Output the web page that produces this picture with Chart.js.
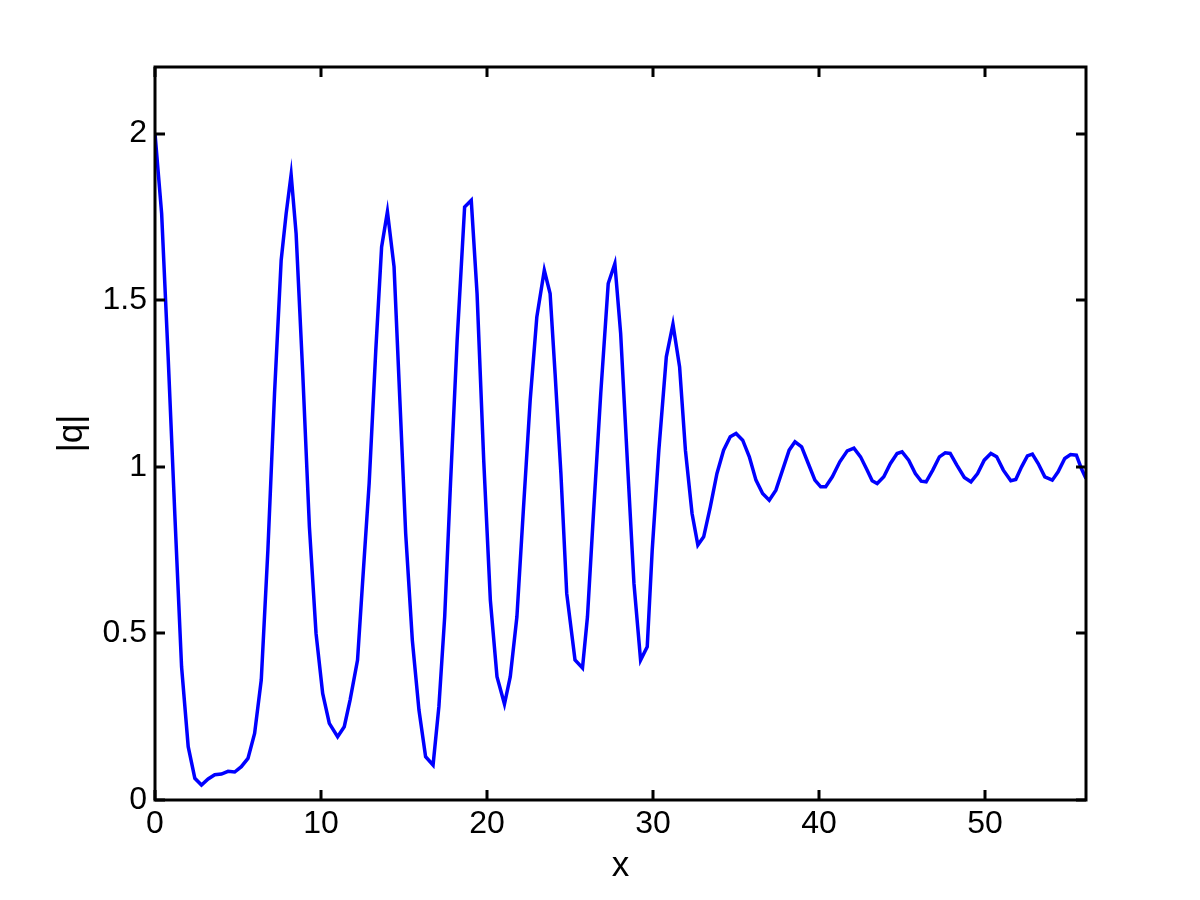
<!DOCTYPE html>
<html>
<head>
<meta charset="utf-8">
<script src="https://cdn.jsdelivr.net/npm/chart.js@4.4.1/dist/chart.umd.min.js"></script>
<style>
  html, body { margin: 0; padding: 0; background: #ffffff; }
  #wrap { width: 1200px; height: 900px; }
</style>
</head>
<body>
<div id="wrap"><canvas id="c" width="1200" height="900"></canvas></div>
<script>
const xs = [0,0.4,0.8,1.2,1.6,2.0,2.4,2.8,3.2,3.6,4.0,4.4,4.8,5.2,5.6,6.0,6.4,6.8,7.2,7.6,7.9,8.2,8.5,8.9,9.3,9.7,10.1,10.5,11.0,11.4,11.75,12.2,12.5,12.9,13.3,13.65,14.0,14.4,14.75,15.1,15.5,15.9,16.3,16.75,17.1,17.45,17.8,18.2,18.65,19.05,19.4,19.8,20.2,20.6,21.05,21.4,21.8,22.2,22.6,23.0,23.45,23.8,24.1,24.45,24.8,25.3,25.75,26.05,26.4,26.85,27.3,27.7,28.05,28.45,28.85,29.25,29.65,29.95,30.35,30.8,31.2,31.6,31.95,32.35,32.7,33.05,33.45,33.85,34.25,34.65,35.0,35.4,35.8,36.2,36.6,37.0,37.4,37.8,38.2,38.55,38.95,39.35,39.75,40.1,40.4,40.8,41.25,41.7,42.1,42.5,42.9,43.2,43.5,43.9,44.3,44.7,45.0,45.4,45.8,46.15,46.45,46.85,47.25,47.6,47.9,48.3,48.75,49.15,49.55,49.95,50.35,50.7,51.1,51.55,51.85,52.2,52.55,52.85,53.2,53.6,54.05,54.4,54.8,55.15,55.5,55.8,56.08];
const ys = [2.0,1.76,1.32,0.85,0.40,0.16,0.065,0.045,0.063,0.076,0.078,0.086,0.084,0.1,0.125,0.2,0.36,0.75,1.22,1.62,1.76,1.877,1.70,1.28,0.82,0.5,0.32,0.23,0.19,0.22,0.3,0.42,0.65,0.95,1.35,1.66,1.766,1.6,1.2,0.8,0.48,0.27,0.13,0.105,0.28,0.55,0.95,1.38,1.78,1.80,1.52,1.02,0.6,0.37,0.288,0.37,0.55,0.88,1.2,1.45,1.59,1.52,1.28,0.98,0.62,0.42,0.396,0.55,0.85,1.22,1.55,1.61,1.4,1.02,0.65,0.42,0.46,0.75,1.05,1.33,1.428,1.3,1.05,0.86,0.765,0.79,0.88,0.98,1.05,1.09,1.10,1.08,1.03,0.96,0.92,0.90,0.93,0.99,1.05,1.075,1.06,1.01,0.96,0.94,0.94,0.97,1.015,1.048,1.056,1.03,0.99,0.958,0.95,0.97,1.01,1.04,1.045,1.02,0.98,0.957,0.955,0.99,1.03,1.042,1.04,1.005,0.968,0.955,0.98,1.02,1.04,1.03,0.99,0.958,0.962,1.0,1.033,1.038,1.01,0.97,0.96,0.985,1.025,1.037,1.035,0.995,0.965];
const xTicks = [0,10,20,30,40,50];
const yTicks = [0,0.5,1,1.5,2];
const xMin = 0, xMax = 56.08, yMin = 0, yMax = 2.2;
const xTitle = 'x';
const yTitle = '|q|';

const points = xs.map((x, i) => ({x: x, y: ys[i]}));

const frameTicks = {
  id: 'frameTicks',
  afterDatasetsDraw(chart) {
    const {ctx, chartArea: a, scales: {x, y}} = chart;
    ctx.save();
    ctx.strokeStyle = '#000';
    ctx.lineWidth = 3;
    ctx.strokeRect(a.left, a.top, a.right - a.left, a.bottom - a.top);
    const L = 10;
    ctx.beginPath();
    xTicks.forEach(v => {
      const px = Math.round(x.getPixelForValue(v));
      ctx.moveTo(px, a.bottom); ctx.lineTo(px, a.bottom - L);
      ctx.moveTo(px, a.top); ctx.lineTo(px, a.top + L);
    });
    yTicks.forEach(v => {
      const py = Math.round(y.getPixelForValue(v));
      ctx.moveTo(a.left, py); ctx.lineTo(a.left + L, py);
      ctx.moveTo(a.right, py); ctx.lineTo(a.right - L, py);
    });
    ctx.stroke();
    ctx.restore();
  }
};

new Chart(document.getElementById('c'), {
  type: 'scatter',
  data: {
    datasets: [{
      data: points,
      showLine: true,
      borderColor: '#0000ff',
      backgroundColor: '#0000ff',
      borderWidth: 3.5,
      pointRadius: 0,
      tension: 0,
      fill: false
    }]
  },
  options: {
    responsive: false,
    animation: false,
    events: [],
    layout: { padding: { left: 0, top: 67, right: 114, bottom: 0 } },
    plugins: { legend: { display: false }, tooltip: { enabled: false } },
    scales: {
      x: {
        type: 'linear',
        min: xMin, max: xMax,
        afterBuildTicks(s) { s.ticks = xTicks.map(v => ({value: v})); },
        afterFit(s) { s.height = 100; },
        grid: { display: false, drawTicks: false },
        border: { display: false },
        ticks: {
          color: '#000', padding: 5, maxRotation: 0,
          font: { family: '"Liberation Sans", Arial, sans-serif', size: 32 },
          callback: v => String(v)
        },
        title: {
          display: true, text: xTitle, color: '#000',
          padding: { top: 0, bottom: 13 },
          font: { family: '"Liberation Sans", Arial, sans-serif', size: 35 }
        }
      },
      y: {
        type: 'linear',
        min: yMin, max: yMax,
        afterBuildTicks(s) { s.ticks = yTicks.map(v => ({value: v})); },
        afterFit(s) { s.width = 155; },
        grid: { display: false, drawTicks: false },
        border: { display: false },
        ticks: {
          color: '#000', padding: 8,
          font: { family: '"Liberation Sans", Arial, sans-serif', size: 32 },
          callback: v => String(v)
        },
        title: {
          display: true, text: yTitle, color: '#000',
          padding: { top: 51, bottom: 0 },
          font: { family: '"Liberation Sans", Arial, sans-serif', size: 35 }
        }
      }
    }
  },
  plugins: [frameTicks]
});
</script>
</body>
</html>
